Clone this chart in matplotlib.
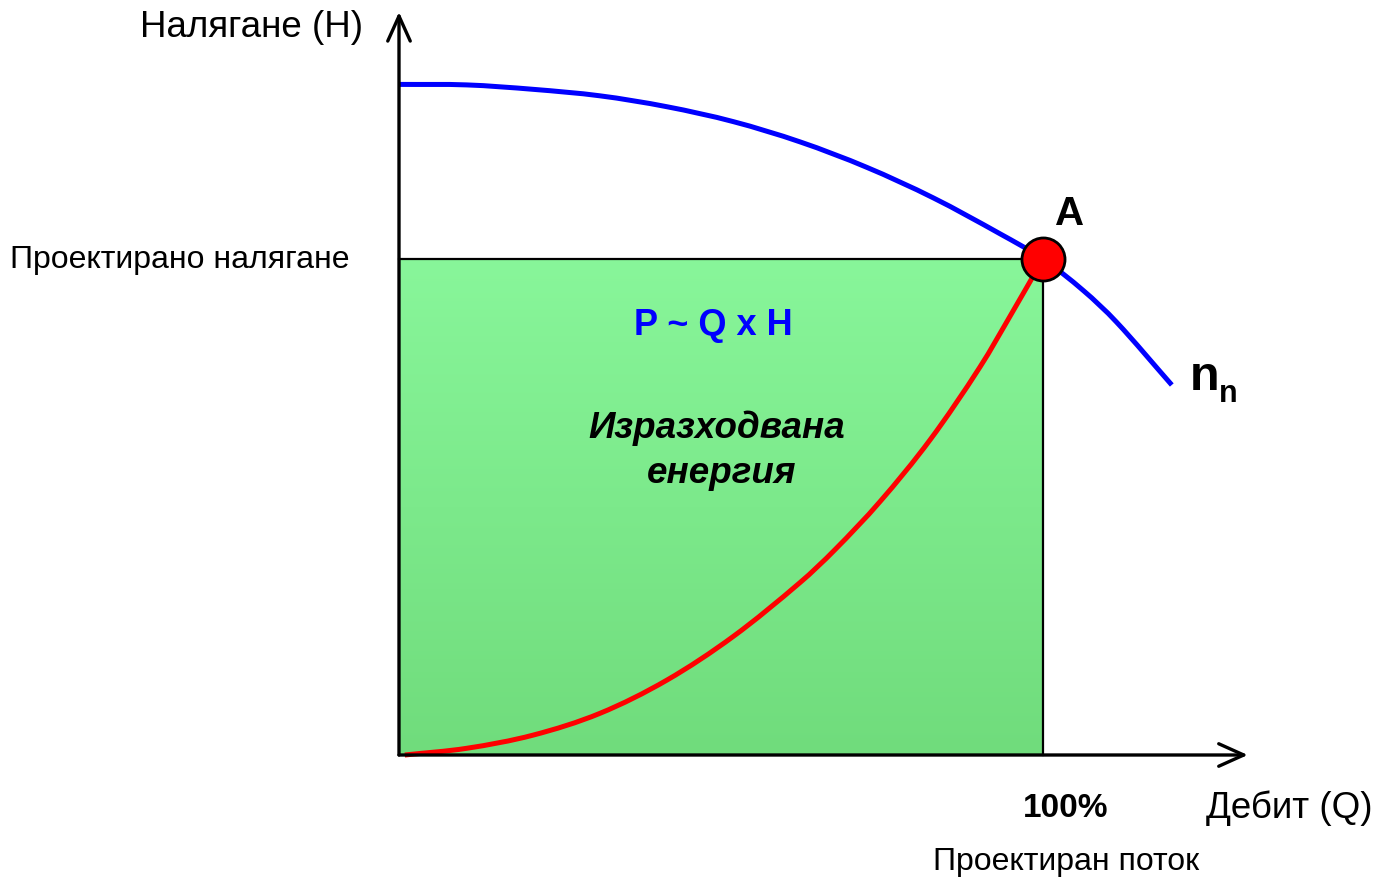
import matplotlib
matplotlib.use("Agg")
import matplotlib.pyplot as plt
import numpy as np
from matplotlib.colors import LinearSegmentedColormap
from matplotlib.path import Path
from matplotlib.patches import PathPatch

plt.rcParams['font.family'] = ['Liberation Sans', 'DejaVu Sans']

# ---- data (percent of design flow / design head) ----
q_pump = [0, 10.5, 20.9, 31.2, 41.6, 51.9, 62.3, 72.6, 83.0, 93.3, 100, 106.3, 111.4, 120.0]
h_pump = [135.2, 135.1, 134.2, 132.9, 130.7, 127.7, 123.6, 118.5, 112.3, 105.1, 100, 93.6, 87.3, 74.6]

q_system = [0.9, 10.5, 20.8, 31.2, 41.6, 51.9, 62.3, 67.7, 74.7, 82.5, 90.2, 95.3, 100]
h_system = [0, 1.35, 4.0, 8.4, 15.1, 23.9, 34.8, 41.4, 51.1, 63.6, 78.2, 89.4, 100]

q_design = 100
h_design = 100
q_axis_end = 131.8
h_axis_end = 149.8

W, H = 1379, 883
fig = plt.figure(figsize=(W / 100, H / 100), dpi=100)
ax = fig.add_axes([0, 0, 1, 1])


def smooth_path(xs, ys):
    """Smooth curve through the read points (cubic Hermite in x, as Bezier segments)."""
    x = np.asarray(xs, float)
    y = np.asarray(ys, float)
    n = len(x)
    m = np.empty(n)
    m[0] = (y[1] - y[0]) / (x[1] - x[0])
    m[-1] = (y[-1] - y[-2]) / (x[-1] - x[-2])
    for i in range(1, n - 1):
        m[i] = (y[i + 1] - y[i - 1]) / (x[i + 1] - x[i - 1])
    verts = [(x[0], y[0])]
    codes = [Path.MOVETO]
    for i in range(n - 1):
        dx = (x[i + 1] - x[i]) / 3.0
        verts += [(x[i] + dx, y[i] + m[i] * dx),
                  (x[i + 1] - dx, y[i + 1] - m[i + 1] * dx),
                  (x[i + 1], y[i + 1])]
        codes += [Path.CURVE4] * 3
    return Path(verts, codes)


# green energy rectangle with vertical gradient
grad = np.linspace(0, 1, 256).reshape(-1, 1)
cmap = LinearSegmentedColormap.from_list('g', ['#70DC7C', '#88F69A'])
ax.imshow(grad, extent=[0, q_design, 0, h_design], origin='lower', cmap=cmap,
          aspect='auto', zorder=1, interpolation='bilinear')
ax.plot([0, q_design, q_design], [h_design, h_design, 0], color='black', lw=1.6, zorder=2)

# curves
ax.add_patch(PathPatch(smooth_path(q_system, h_system), fill=False, edgecolor='#FF0000',
                       lw=3.6, zorder=4, capstyle='butt'))
ax.add_patch(PathPatch(smooth_path(q_pump, h_pump), fill=False, edgecolor='#0000FF',
                       lw=3.6, zorder=4, capstyle='butt'))

# operating point A
ax.plot([q_design], [h_design], 'o', ms=31, mfc='#FF0000', mec='black', mew=2, zorder=6)

# axes with arrows
arrow = dict(arrowstyle='->,head_length=1.0,head_width=0.45', lw=2.4, color='black',
             mutation_scale=18, shrinkA=0, shrinkB=0)
ax.annotate('', xy=(0, h_axis_end), xytext=(0, 0), arrowprops=arrow, zorder=5)
ax.annotate('', xy=(q_axis_end, 0), xytext=(0, 0), arrowprops=arrow, zorder=5)

ax.set_xlim(-399 / 6.44, (W - 399) / 6.44)
ax.set_ylim(-(H - 755) / 4.96, 755 / 4.96)
ax.axis('off')


def txt(px, py, s, **kw):
    fig.text(px / W, 1 - py / H, s, **kw)


txt(251, 37, 'Налягане (Н)', fontsize=26.5, ha='center', va='baseline')
txt(180, 268, 'Проектирано налягане', fontsize=23, ha='center', va='baseline')
txt(1289, 818, 'Дебит (Q)', fontsize=26.5, ha='center', va='baseline')
txt(1066, 870, 'Проектиран поток', fontsize=23, ha='center', va='baseline')
txt(1066, 817, '100%', fontsize=24, fontweight='bold', ha='center', va='baseline')
txt(1070, 225, 'A', fontsize=29, fontweight='bold', ha='center', va='baseline')
txt(1190, 390, 'n', fontsize=35, fontweight='bold', ha='left', va='baseline')
txt(1219, 402, 'n', fontsize=22, fontweight='bold', ha='left', va='baseline')
txt(713, 335, 'P ~ Q x H', fontsize=26, fontweight='bold', color='#0000FF', ha='center', va='baseline')
txt(717, 438, 'Изразходвана', fontsize=26.5, fontweight='bold', style='italic', ha='center', va='baseline')
txt(722, 483, 'енергия', fontsize=26.5, fontweight='bold', style='italic', ha='center', va='baseline')

fig.savefig('out.png', dpi=100)
